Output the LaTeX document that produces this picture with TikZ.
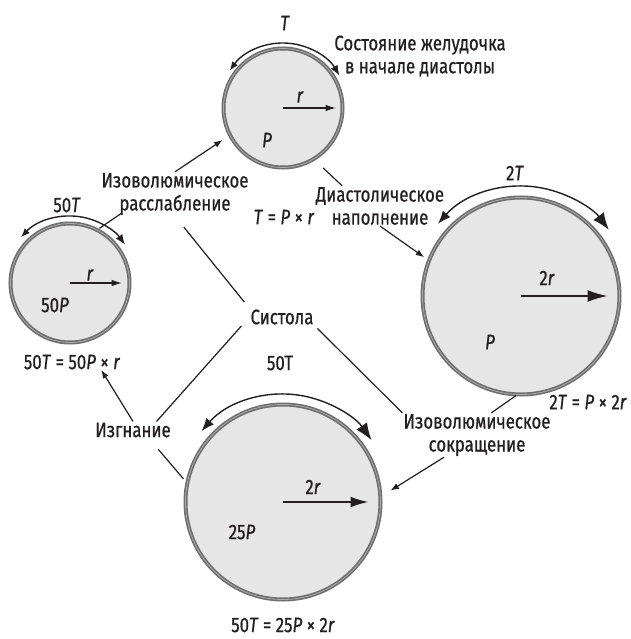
\documentclass[tikz,border=0pt]{standalone}
\usepackage{fontspec}
\setmainfont[FakeStretch=0.8,FakeBold=0.7]{Fira Sans}
\usepackage{xcolor}
\definecolor{WallGray}{HTML}{6E6E6E}
\definecolor{WallLight}{HTML}{ABABAB}
\definecolor{CavityGray}{HTML}{E6E6E6}
\definecolor{InkGray}{HTML}{231F20}
\usetikzlibrary{arrows.meta}

\begin{document}
\begin{tikzpicture}[x=1pt,y=1pt,>=Latex,font=\fontsize{21}{23}\selectfont,text=InkGray,heart/.style={circle,draw=WallGray,double=WallLight,double distance=0.8pt,line width=1.6pt,fill=CavityGray,inner sep=0pt,outer sep=0pt},lbl/.style={align=center,inner sep=1pt},link/.style={draw=InkGray,line width=1.2pt},rad/.style={-{Latex[length=#1,width=0.6*#1]},draw=InkGray,line width=1.8pt},wallarc/.style={draw=InkGray,line width=1.4pt}]
\useasboundingbox (0,0) rectangle (630,-639);
\node[heart,minimum size=119pt] (start) at (283,-108) {};
\node[heart,minimum size=119pt] (relax) at (70,-283) {};
\node[heart,minimum size=197pt] (filled) at (521,-296) {};
\node[heart,minimum size=195pt] (eject) at (283,-502) {};
\node[lbl] (tstart) at (285,-23) {\textit{T}};
\node[lbl] (state) at (420,-56) {Состояние желудочка\\в начале диастолы};
\node[lbl] (rstart) at (300,-97) {\textit{r}};
\node[lbl] (pstart) at (267,-140) {\textit{P}};
\node[lbl] (ivr) at (175,-194) {Изоволюмическое\\расслабление};
\node[lbl] (eqstart) at (284,-217) {\textit{T} = \textit{P} × \textit{r}};
\node[lbl] (dfill) at (380,-206) {Диастолическое\\наполнение};
\node[lbl] (trelax) at (67,-205) {50\textit{T}};
\node[lbl] (rrelax) at (90,-275) {\textit{r}};
\node[lbl] (prelax) at (55,-305) {50\textit{P}};
\node[lbl] (eqrelax) at (72,-362) {50\textit{T} = 50\textit{P} × \textit{r}};
\node[lbl] (tfilled) at (515,-173) {2\textit{T}};
\node[lbl] (rfilled) at (547,-278) {2\textit{r}};
\node[lbl] (pfilled) at (490,-342) {\textit{P}};
\node[lbl] (eqfilled) at (588,-402) {2\textit{T} = \textit{P} × 2\textit{r}};
\node[lbl] (syst) at (282,-317) {Систола};
\node[lbl] (teject) at (280,-363) {50T};
\node[lbl] (ejl) at (133,-430) {Изгнание};
\node[lbl] (ivc) at (477,-435) {Изоволюмическое\\сокращение};
\node[lbl] (reject) at (313,-487) {2\textit{r}};
\node[lbl] (peject) at (242,-532) {25\textit{P}};
\node[lbl] (eqeject) at (283,-625) {50\textit{T} = 25\textit{P} × 2\textit{r}};
\draw[rad=11pt,shorten >=6pt] (start.center) -- (start.east);
\draw[rad=11pt,shorten >=7pt] (relax.center) -- (relax.east);
\draw[rad=20pt,shorten >=12pt] (filled.center) -- (filled.east);
\draw[rad=18pt,shorten >=12pt] (eject.center) -- (eject.east);
\draw[wallarc,{Latex[length=9pt,width=7pt]}-{Latex[length=10pt,width=8pt]}] ([shift={(145:65pt)}]start.center) arc[start angle=145,end angle=30,radius=65pt];
\draw[wallarc,{Latex[length=9pt,width=7pt]}-{Latex[length=10pt,width=8pt]}] ([shift={(137:67pt)}]relax.center) arc[start angle=137,end angle=35,radius=67pt];
\draw[wallarc,{Latex[length=13pt,width=10pt]}-{Latex[length=17pt,width=13pt]}] ([shift={(139:110pt)}]filled.center) arc[start angle=139,end angle=37,radius=110pt];
\draw[wallarc,{Latex[length=13pt,width=10pt]}-{Latex[length=17pt,width=13pt]}] ([shift={(139:108pt)}]eject.center) arc[start angle=139,end angle=35,radius=108pt];
\draw[link,->,shorten >=9pt] (ivr.north) -- (start.207);\draw[link,shorten <=3pt,shorten >=-6pt] (relax.63) -- (ivr.201);\draw[link,shorten <=13pt] (start.301) -- (dfill.152);\draw[link,->,shorten >=6pt] (dfill.south) -- (filled.159);
\draw[link,shorten <=14pt,shorten >=8pt] (ivr.south) -- (syst.north west);\draw[link,shorten <=12pt] (syst.west) -- (ejl.20);\draw[link,shorten <=4pt] (syst.south east) -- (ivc.north west);
\draw[link,->,shorten >=34pt] (ejl.north) -- (relax.283);\draw[link,shorten <=14pt,shorten >=6pt] (ejl.-28) -- (eject.169);\draw[link,shorten <=2pt] (filled.268) -- (ivc.57);\draw[link,->,shorten >=12pt] (ivc.214) -- (eject.3);
\end{tikzpicture}
\end{document}
